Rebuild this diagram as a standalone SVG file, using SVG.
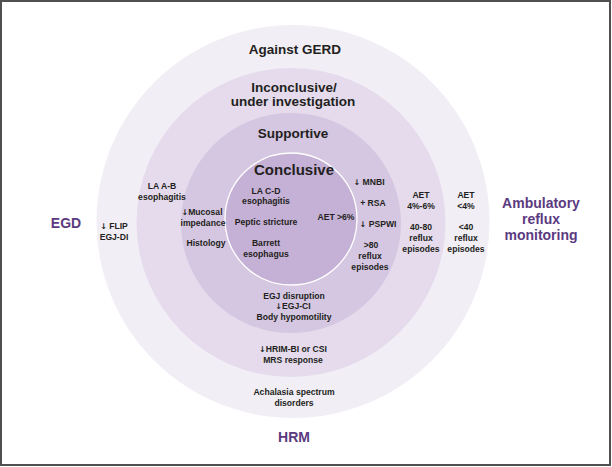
<svg xmlns="http://www.w3.org/2000/svg" width="612" height="467" viewBox="0 0 612 467">
<style>
text{font-family:"Liberation Sans",Arial,sans-serif;font-weight:bold;text-anchor:middle;fill:#231f20}
.h{font-size:13.5px}
.hc{font-size:15px}
.s{font-size:8.6px}
.p{font-size:14px;fill:#5b3a7f}
.a{font-family:"DejaVu Sans",sans-serif;font-weight:bold;font-size:8px}
</style>
<rect x="1" y="1" width="609" height="464" fill="#ffffff" stroke="#505050" stroke-width="2"/>
<g id="ring-against">
<circle cx="293" cy="221.5" r="196.5" fill="#f2eef6"/>
</g>
<g id="ring-inconclusive">
<circle cx="291" cy="222.5" r="154.5" fill="#e5dbec"/>
</g>
<g id="ring-supportive">
<circle cx="291" cy="223" r="110" fill="#d5c6e1"/>
</g>
<g id="ring-conclusive">
<circle cx="291" cy="219" r="66" fill="#c5b0d6" stroke="#ffffff" stroke-width="1.3"/>
</g>
<g id="connectors"/>
<g id="label-against">
<text class="h" x="295" y="54">Against GERD</text>
<text class="s" x="114" y="229"><tspan class="a">↓</tspan> FLIP</text>
<text class="s" x="114" y="240">EGJ-DI</text>
<text class="s" x="466" y="198">AET</text>
<text class="s" x="466" y="209">&lt;4%</text>
<text class="s" x="466" y="230">&lt;40</text>
<text class="s" x="466" y="241">reflux</text>
<text class="s" x="466" y="252">episodes</text>
<text class="s" x="294" y="395">Achalasia spectrum</text>
<text class="s" x="294" y="405.5">disorders</text>
</g>
<g id="label-inconclusive">
<text class="h" x="294" y="91.5">Inconclusive/</text>
<text class="h" x="293" y="105.5">under investigation</text>
<text class="s" x="162" y="189">LA A-B</text>
<text class="s" x="162" y="200">esophagitis</text>
<text class="s" x="421" y="198">AET</text>
<text class="s" x="421" y="209">4%-6%</text>
<text class="s" x="421" y="230">40-80</text>
<text class="s" x="421" y="241">reflux</text>
<text class="s" x="421" y="252">episodes</text>
<text class="s" x="293" y="351.5"><tspan class="a">↓</tspan>HRIM-BI or CSI</text>
<text class="s" x="293" y="362.5">MRS response</text>
</g>
<g id="label-supportive">
<text class="h" x="293" y="138">Supportive</text>
<text class="s" x="202" y="215"><tspan class="a">↓</tspan>Mucosal</text>
<text class="s" x="203" y="226">impedance</text>
<text class="s" x="206" y="246">Histology</text>
<text class="s" x="369" y="185"><tspan class="a">↓</tspan> MNBI</text>
<text class="s" x="373" y="206">+ RSA</text>
<text class="s" x="378" y="227"><tspan class="a">↓</tspan> PSPWI</text>
<text class="s" x="371" y="248">&gt;80</text>
<text class="s" x="370" y="259">reflux</text>
<text class="s" x="370" y="270">episodes</text>
<text class="s" x="294" y="298.5">EGJ disruption</text>
<text class="s" x="293" y="309"><tspan class="a">↓</tspan>EGJ-CI</text>
<text class="s" x="294" y="319.5">Body hypomotility</text>
</g>
<g id="label-conclusive">
<text class="hc" x="294" y="175">Conclusive</text>
<text class="s" x="266" y="193.5">LA C-D</text>
<text class="s" x="266" y="204">esophagitis</text>
<text class="s" x="266" y="225">Peptic stricture</text>
<text class="s" x="266" y="246">Barrett</text>
<text class="s" x="266" y="256.5">esophagus</text>
<text class="s" x="336" y="220">AET &gt;6%</text>
</g>
<g id="label-egd">
<text class="p" x="66" y="228">EGD</text>
</g>
<g id="label-ambulatory">
<text class="p" x="541" y="208">Ambulatory</text>
<text class="p" x="541" y="224">reflux</text>
<text class="p" x="541" y="240">monitoring</text>
</g>
<g id="label-hrm">
<text class="p" x="294" y="442">HRM</text>
</g>
</svg>
